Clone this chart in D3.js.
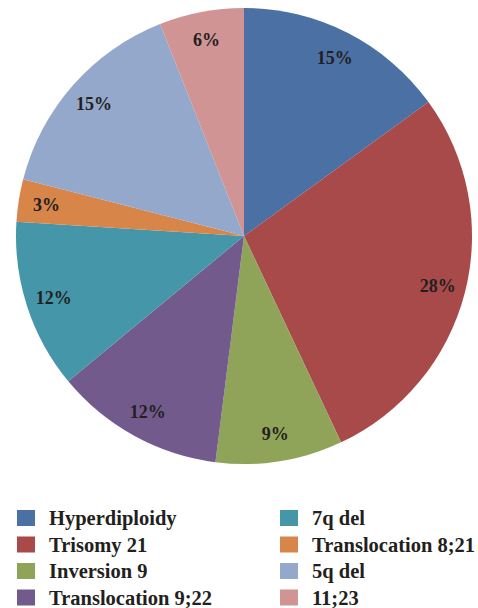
<!DOCTYPE html>
<html lang="en">
<head>
    <meta charset="UTF-8">
    <title>Cytogenetic abnormalities</title>
    <script src="https://d3js.org/d3.v7.min.js"></script>
    <style>
        body { margin: 0; background: #fff; }
        text { font-family: "Liberation Serif", "DejaVu Serif", serif; font-weight: bold; fill: #231f20; }
    </style>
</head>
<body>
    <div id="chart"></div>
    <script>
        const categories = ["Hyperdiploidy", "Trisomy 21", "Inversion 9", "Translocation 9;22",
                            "7q del", "Translocation 8;21", "5q del", "11;23"];
        const values = [15, 28, 9, 12, 12, 3, 15, 6];
        const colors = ["#4a70a4", "#a84a4a", "#8fa458", "#725a8d",
                        "#4596a9", "#d8854a", "#93a8cb", "#d09494"];

        const width = 478, height = 608;
        const cx = 244, cy = 236, radius = 228;

        const svg = d3.select("#chart").append("svg")
            .attr("width", width)
            .attr("height", height);

        const pie = d3.pie().sort(null).value(d => d);
        const arcs = pie(values);

        const arc = d3.arc().innerRadius(0).outerRadius(radius);
        const labelArc = d3.arc().innerRadius(200).outerRadius(200);

        const g = svg.append("g").attr("transform", `translate(${cx},${cy})`);

        g.selectAll("path")
            .data(arcs)
            .join("path")
            .attr("d", arc)
            .attr("fill", (d, i) => colors[i]);

        g.selectAll("text")
            .data(arcs)
            .join("text")
            .attr("transform", d => `translate(${labelArc.centroid(d)})`)
            .attr("text-anchor", "middle")
            .attr("dy", "0.35em")
            .style("font-size", "18px")
            .text(d => d.data + "%");

        // legend, two columns of four
        const legend = svg.append("g");
        const item = legend.selectAll("g")
            .data(categories)
            .join("g")
            .attr("transform", (d, i) => {
                const col = Math.floor(i / 4), row = i % 4;
                return `translate(${17 + col * 263},${510 + row * 26.5})`;
            });

        item.append("rect")
            .attr("width", 18)
            .attr("height", 16)
            .attr("fill", (d, i) => colors[i]);

        item.append("text")
            .attr("x", 32)
            .attr("y", 8)
            .attr("dy", "0.35em")
            .style("font-size", "20.5px")
            .text(d => d);
    </script>
</body>
</html>
